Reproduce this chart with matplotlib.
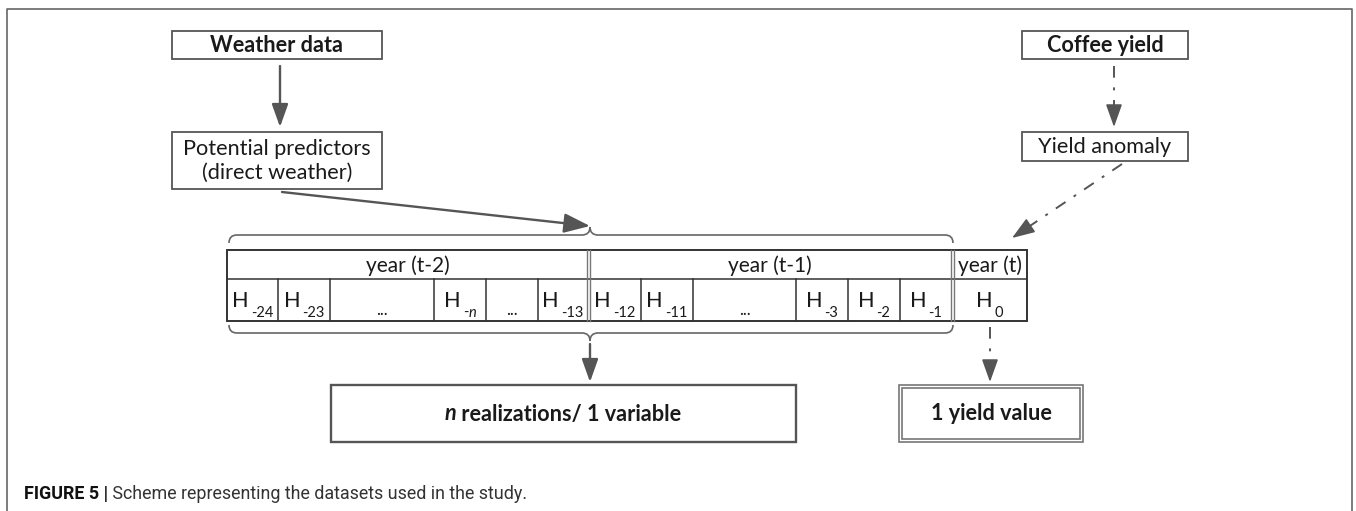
import matplotlib.pyplot as plt
from matplotlib.patches import Rectangle, FancyArrowPatch, PathPatch
from matplotlib.path import Path

# ---- content ----
top_boxes = ['Weather data', 'Coffee yield']
mid_boxes = ['Potential predictors\n(direct weather)', 'Yield anomaly']
year_labels = ['year (t-2)', 'year (t-1)', 'year (t)']
cell_subs = ['-24', '-23', None, '-n', None, '-13',
             '-12', '-11', None, '-3', '-2', '-1', '0']
out_boxes = ['realizations/ 1 variable', '1 yield value']
caption_bold = 'FIGURE 5 |'
caption_text = ' Scheme representing the datasets used in the study.'

# ---- layout (pixel coords, y down) ----
W, H = 1356, 511
col_edges = [227, 278, 330, 434, 486, 538, 588, 641, 693, 796, 848, 900, 952, 1027]
year_edges = [227, 588, 952, 1027]
tab_top, tab_mid, tab_bot = 250, 279, 321

LINE = '#555555'
TXT = '#1a1a1a'
FONT = 'Lato'
FS = 15.6

fig = plt.figure(figsize=(W / 100, H / 100), dpi=100)
ax = fig.add_axes([0, 0, 1, 1])
ax.set_xlim(0, W)
ax.set_ylim(H, 0)
ax.axis('off')

# outer frame (open at the bottom)
ax.plot([7, 7, 1352, 1352], [H, 9, 9, H], color='#666666', lw=1.2)


def box(x0, y0, x1, y1, lw=1.3, color=LINE):
    ax.add_patch(Rectangle((x0, y0), x1 - x0, y1 - y0, fill=False,
                           ec=color, lw=lw))


def arrow(p0, p1, dashed=False, hl=13, hw=5):
    style = '-|>,head_length=%g,head_width=%g' % (hl, hw)
    if dashed:
        # dash-dot shaft with a solid head
        dx, dy = p1[0] - p0[0], p1[1] - p0[1]
        n = (dx ** 2 + dy ** 2) ** 0.5
        q = (p1[0] - dx / n * (hl + 2), p1[1] - dy / n * (hl + 2))
        ax.plot([p0[0], q[0]], [p0[1], q[1]], color=LINE, lw=1.4,
                linestyle=(0, (6, 5, 1.5, 5)))
        q0 = (p1[0] - dx / n * (hl + 1), p1[1] - dy / n * (hl + 1))
        ax.add_patch(FancyArrowPatch(q0, p1, arrowstyle=style,
                                     color=LINE, lw=1.2, mutation_scale=1,
                                     shrinkA=0, shrinkB=0))
    else:
        ax.add_patch(FancyArrowPatch(p0, p1, arrowstyle=style,
                                     color=LINE, lw=1.7, mutation_scale=1,
                                     shrinkA=0, shrinkB=0))


# top row boxes
box(172, 31, 382, 59)
ax.text(277, 45, top_boxes[0], ha='center', va='center', fontsize=FS,
        fontweight='bold', family=FONT, color=TXT)
box(1022, 31, 1188, 59)
ax.text(1105, 45, top_boxes[1], ha='center', va='center', fontsize=FS,
        fontweight='bold', family=FONT, color=TXT)

# second row boxes
box(172, 132, 382, 189)
ax.text(277, 161, mid_boxes[0], ha='center', va='center', fontsize=FS,
        family=FONT, color=TXT, linespacing=1.25)
box(1022, 132, 1188, 161)
ax.text(1105, 147, mid_boxes[1], ha='center', va='center', fontsize=FS,
        family=FONT, color=TXT)

# arrows between top boxes
arrow((280, 66), (280, 127), hl=14, hw=5)
arrow((1114, 66), (1114, 127), dashed=True, hl=14, hw=5)
arrow((282, 192), (590, 226), hl=16, hw=6)
arrow((1122, 164), (1012, 238), dashed=True, hl=14, hw=5)

# table
box(col_edges[0], tab_top, col_edges[-1], tab_bot, lw=1.4, color='#333333')
ax.plot([col_edges[0], col_edges[-1]], [tab_mid, tab_mid], color='#333333', lw=1.1)
for x in col_edges[1:-1]:
    if x in year_edges:
        for off in (-1.5, 1.5):
            ax.plot([x + off, x + off], [tab_top, tab_bot], color='#777777', lw=1.0)
    else:
        ax.plot([x, x], [tab_mid, tab_bot], color='#333333', lw=1.1)

for i, lab in enumerate(year_labels):
    cx = (year_edges[i] + year_edges[i + 1]) / 2
    ax.text(cx, (tab_top + tab_mid) / 2 + 1, lab, ha='center', va='center',
            fontsize=15, family=FONT, color=TXT)

renderer = fig.canvas.get_renderer()
for i, sub in enumerate(cell_subs):
    cx = (col_edges[i] + col_edges[i + 1]) / 2
    if sub is None:
        ax.text(cx, 315, '...', ha='center', va='baseline', fontsize=12,
                family=FONT, color=TXT)
        continue
    th = ax.text(0, 307, 'H', ha='left', va='baseline', fontsize=FS,
                 family=FONT, color=TXT)
    ts = ax.text(0, 317, sub if sub != '-n' else '-', ha='left', va='baseline',
                 fontsize=10.5, family=FONT, color=TXT)
    parts = [th, ts]
    if sub == '-n':
        tn = ax.text(0, 317, 'n', ha='left', va='baseline', fontsize=10.5,
                     family=FONT, style='italic', color=TXT)
        parts.append(tn)
    widths = [t.get_window_extent(renderer).width for t in parts]
    total = sum(widths) + 2
    x = cx - total / 2
    for k, t in enumerate(parts):
        t.set_x(x)
        x += widths[k] + (2 if k == 0 else 0)


def brace(x0, x1, xm, y, d, r=8):
    # d = -1 : tip up (top brace), d = 1 : tip down (bottom brace)
    verts = [(x0, y - d * r), (x0, y), (x0 + r, y),
             (xm - r, y), (xm, y), (xm, y + d * r),
             (xm, y), (xm + r, y),
             (x1 - r, y), (x1, y), (x1, y - d * r)]
    codes = [Path.MOVETO, Path.CURVE3, Path.CURVE3,
             Path.LINETO, Path.CURVE3, Path.CURVE3,
             Path.CURVE3, Path.CURVE3,
             Path.LINETO, Path.CURVE3, Path.CURVE3]
    ax.add_patch(PathPatch(Path(verts, codes), fill=False, ec='#666666', lw=1.2))


brace(229, 953, 590, 235, -1)
brace(229, 953, 590, 333, 1)

# outputs
arrow((590, 344), (590, 382), hl=14, hw=5)
arrow((990, 327), (990, 382), dashed=True, hl=14, hw=5)

box(331, 385, 796, 442, lw=1.7)
t1 = ax.text(0, 414, 'n', ha='left', va='center', fontsize=FS, fontweight='bold',
             style='italic', family=FONT, color=TXT)
t2 = ax.text(0, 414, ' ' + out_boxes[0], ha='left', va='center', fontsize=FS,
             fontweight='bold', family=FONT, color=TXT)
w1 = t1.get_window_extent(renderer).width
w2 = t2.get_window_extent(renderer).width
x = 563 - (w1 + w2) / 2
t1.set_x(x)
t2.set_x(x + w1)

box(899, 385, 1083, 442, lw=1.2, color='#777777')
box(902, 388, 1080, 439, lw=1.2, color='#777777')
ax.text(991, 414, out_boxes[1], ha='center', va='center', fontsize=FS,
        fontweight='bold', family=FONT, color=TXT)

# caption
c1 = ax.text(24, 494, caption_bold, ha='left', va='center', fontsize=12.9,
             fontweight='bold', family='Roboto', color='#111111')
wc = c1.get_window_extent(renderer).width
ax.text(24 + wc, 494, caption_text, ha='left', va='center', fontsize=12.9,
        family='Roboto', color='#333333')

fig.savefig('out.png', dpi=100)
